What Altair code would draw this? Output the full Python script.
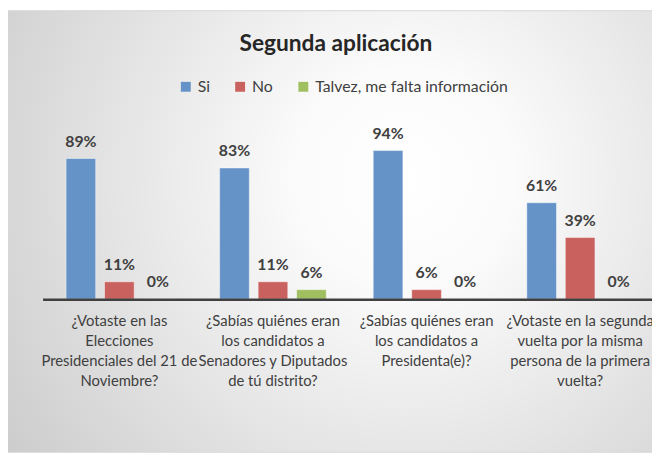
import altair as alt
import pandas as pd

categories = [
    "¿Votaste en las|Elecciones|Presidenciales del 21 de|Noviembre?",
    "¿Sabías quiénes eran|los candidatos a|Senadores y Diputados|de tú distrito?",
    "¿Sabías quiénes eran|los candidatos a|Presidenta(e)?",
    "¿Votaste en la segunda|vuelta por la misma|persona de la primera|vuelta?",
]
series = ["Si", "No", "Talvez, me falta información"]
si_values = [0.89, 0.83, 0.94, 0.61]
no_values = [0.11, 0.11, 0.06, 0.39]
talvez_values = [0.00, 0.06, 0.00, 0.00]
colors = ["#6592c7", "#c9625f", "#9fbf61"]
title_text = "Segunda aplicación"

rows = []
for s, vals in zip(series, [si_values, no_values, talvez_values]):
    for c, v in zip(categories, vals):
        rows.append({"category": c, "series": s, "value": v, "label": f"{round(v * 100)}%"})
df = pd.DataFrame(rows)
one = pd.DataFrame({"k": [0]})

FONT = "Lato"

gradient = {
    "gradient": "radial",
    "stops": [
        {"offset": 0, "color": "#ffffff"},
        {"offset": 0.2, "color": "#fbfbfb"},
        {"offset": 1, "color": "#c6c6c6"},
    ],
    "x1": 0.58, "y1": 0.42, "r1": 0,
    "x2": 0.58, "y2": 0.42, "r2": 0.78,
}

bg = alt.Chart(one).mark_rect(fill=gradient, stroke="#d6d6d6", strokeWidth=1).encode(
    x=alt.value(-36), x2=alt.value(660), y=alt.value(-132), y2=alt.value(315)
)

x_enc = alt.X(
    "category:N",
    sort=categories,
    scale=alt.Scale(range=[0, 622], paddingInner=0, paddingOuter=0),
    axis=alt.Axis(
        title=None,
        labelAngle=0,
        ticks=False,
        labelExpr="split(datum.label, '|')",
        labelFont=FONT,
        labelFontSize=15,
        labelColor="#404040",
        labelLineHeight=20,
        labelPadding=15,
        labelLimit=0,
        labelOverlap=False,
        domainColor="#404040",
        domainWidth=2.5,
        grid=False,
        zindex=2,
    ),
)
xo_enc = alt.XOffset("series:N", sort=series, scale=alt.Scale(paddingInner=0.23, paddingOuter=0.61))
y_enc = alt.Y("value:Q", scale=alt.Scale(domain=[0, 1]), axis=None)

bars = alt.Chart(df).mark_bar(stroke="#ffffff", strokeOpacity=0.45, strokeWidth=1).encode(
    x=x_enc,
    xOffset=xo_enc,
    y=y_enc,
    color=alt.Color(
        "series:N",
        sort=series,
        scale=alt.Scale(domain=series, range=colors),
        legend=alt.Legend(
            title=None,
            orient="none",
            legendX=137,
            legendY=-63,
            direction="horizontal",
            symbolType="square",
            symbolSize=100,
            symbolStrokeWidth=0,
            labelFont=FONT,
            labelFontSize=16,
            labelColor="#404040",
            labelLimit=0,
            columnPadding=22,
            labelOffset=4,
            zindex=2,
        ),
    ),
)

labels = alt.Chart(df).mark_text(
    dy=-9, baseline="bottom", fontSize=16, fontWeight="bold", font=FONT, color="#404040"
).encode(x=x_enc, xOffset=xo_enc, y=y_enc, text="label:N")

title = alt.Chart(one).mark_text(
    text=title_text, fontSize=23, fontWeight="bold", font=FONT, color="#262626",
    align="center", baseline="middle"
).encode(x=alt.value(297), y=alt.value(-98))

chart = alt.layer(bg, bars, labels, title).properties(
    width=617,
    height=160,
    padding={"left": 35, "top": 132, "right": 0, "bottom": 155},
    autosize=alt.AutoSizeParams(type="none"),
).configure_view(stroke=None).configure(background="white")

chart.save("out.html", embed_options={"renderer": "svg", "actions": False})
